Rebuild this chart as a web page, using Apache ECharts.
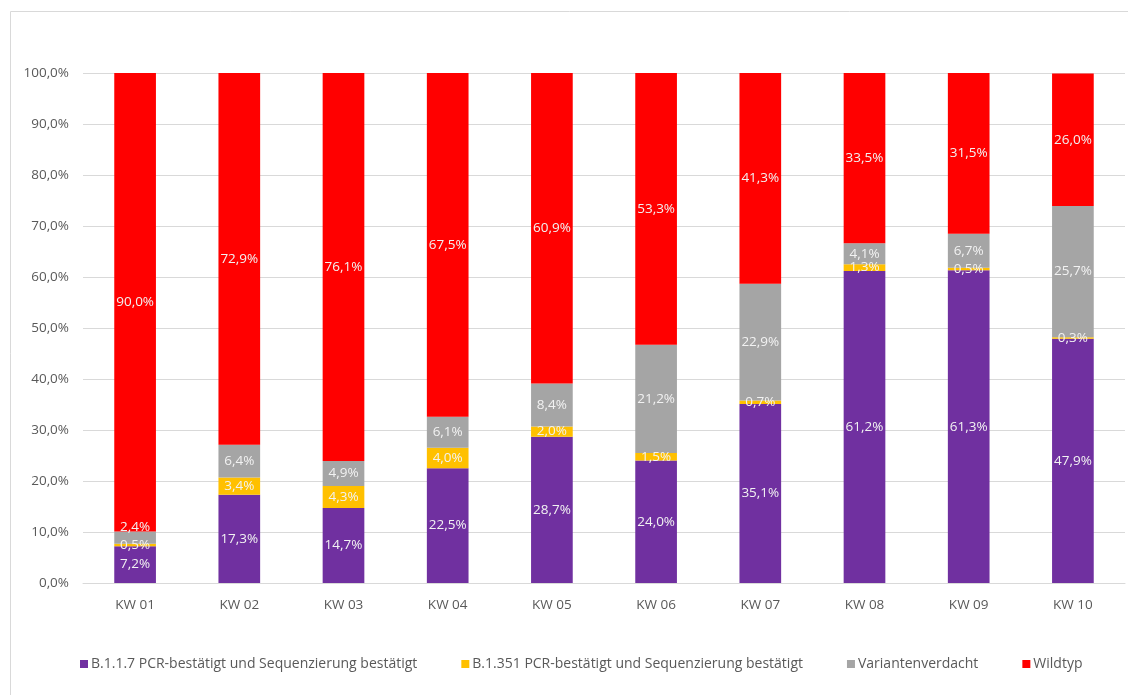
<!DOCTYPE html>
<html>
<head>
<meta charset="utf-8">
<script src="https://cdn.jsdelivr.net/npm/echarts@6/dist/echarts.min.js"></script>
<style>html,body{margin:0;padding:0;background:#fff;}#c{width:1128px;height:695px;}</style>
</head>
<body>
<div id="c"></div>
<script>
const categories = ['KW 01','KW 02','KW 03','KW 04','KW 05','KW 06','KW 07','KW 08','KW 09','KW 10'];
const b117 = [7.2, 17.3, 14.7, 22.5, 28.7, 24.0, 35.1, 61.2, 61.3, 47.9];
const b1351 = [0.5, 3.4, 4.3, 4.0, 2.0, 1.5, 0.7, 1.3, 0.5, 0.3];
const verdacht = [2.4, 6.4, 4.9, 6.1, 8.4, 21.2, 22.9, 4.1, 6.7, 25.7];
const wildtyp = [90.0, 72.9, 76.1, 67.5, 60.9, 53.3, 41.3, 33.5, 31.5, 26.0];
const seriesNames = ['B.1.1.7 PCR-bestätigt und Sequenzierung bestätigt','B.1.351 PCR-bestätigt und Sequenzierung bestätigt','Variantenverdacht','Wildtyp'];
const colors = ['#7030A0','#FFC000','#A5A5A5','#FF0000'];
const yTicks = [0,10,20,30,40,50,60,70,80,90,100];

const FONT = 'Open Sans';
const fmt = v => v.toFixed(1).replace('.', ',') + '%';

function mk(name, values, color, idx) {
  return {
    name: name,
    type: 'bar',
    stack: 'total',
    barWidth: '40%',
    itemStyle: { color: color },
    label: {
      show: true,
      position: 'inside',
      color: '#F2F2F2',
      fontFamily: FONT,
      fontSize: 13.5,
      formatter: p => fmt(p.value)
    },
    data: values.map((v, i) => {
      if (idx === 2 && i === 0) return { value: v, label: { offset: [0, -10] } };
      return v;
    })
  };
}

const chart = echarts.init(document.getElementById('c'), null, { renderer: 'canvas' });
chart.setOption({
  animation: false,
  color: colors,
  graphic: [{
    type: 'rect', shape: { x: 10.5, y: 11.5, width: 1130, height: 700 },
    style: { fill: 'none', stroke: '#D9D9D9', lineWidth: 1 }, z: -1
  }],
  grid: { left: 83, right: 3, top: 73, bottom: 112, containLabel: false },
  legend: {
    data: seriesNames,
    left: 75, top: 652,
    itemWidth: 8, itemHeight: 8, itemGap: 44,
    icon: 'rect',
    textStyle: { color: '#595959', fontFamily: FONT, fontSize: 14, padding: [0, 0, 0, -2] }
  },
  xAxis: {
    type: 'category', data: categories,
    axisLine: { lineStyle: { color: '#D9D9D9' } },
    axisTick: { show: false },
    axisLabel: { color: '#595959', fontFamily: FONT, fontSize: 13.5, margin: 15 }
  },
  yAxis: {
    type: 'value', min: 0, max: 100, interval: 10,
    axisLine: { show: false }, axisTick: { show: false },
    splitLine: { lineStyle: { color: '#D9D9D9' } },
    axisLabel: { color: '#595959', fontFamily: FONT, fontSize: 13.5, margin: 14, formatter: v => fmt(v) }
  },
  series: [
    mk(seriesNames[0], b117, colors[0], 0),
    mk(seriesNames[1], b1351, colors[1], 1),
    mk(seriesNames[2], verdacht, colors[2], 2),
    mk(seriesNames[3], wildtyp, colors[3], 3)
  ]
});
</script>
</body>
</html>
